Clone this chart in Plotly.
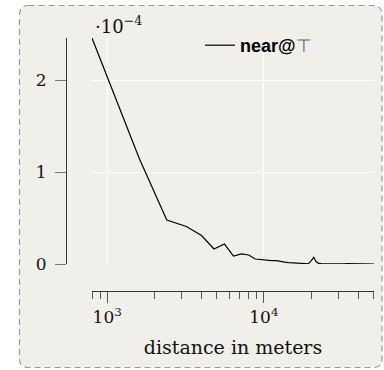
import plotly.graph_objects as go

# distance bins (meters) and the observed rate for "near@⊤"
distance_m = [
    800, 1600, 2400, 3200, 4000, 4800, 5600, 6400, 7200, 8000,
    8800, 9600, 10400, 11200, 12000, 12800, 13600, 14400, 15200, 16000,
    16800, 17600, 18400, 19200, 20000, 20800, 21600, 22400, 23200, 24000,
    24800, 25600, 26400, 27200, 28000, 28800, 29600, 30400, 31200, 32000,
    32800, 33600, 34400, 35200, 36000, 36800, 37600, 38400, 39200, 40000,
    40800, 41600, 42400, 43200, 44000, 44800, 45600, 46400, 47200, 48000,
    48800, 49600, 50400,
]
rate_e4 = [
    2.457, 1.15, 0.478, 0.408, 0.31, 0.163, 0.217, 0.087, 0.109, 0.098,
    0.054, 0.045, 0.040, 0.036, 0.036, 0.024, 0.020, 0.016, 0.013, 0.012,
    0.010, 0.008, 0.005, 0.002, 0.035, 0.073, 0.022, 0.006, 0.005, 0.004,
    0.004, 0.003, 0.005, 0.003, 0.002, 0.004, 0.003, 0.002, 0.003, 0.002,
    0.002, 0.003, 0.002, 0.001, 0.002, 0.002, 0.001, 0.002, 0.001, 0.001,
    0.002, 0.001, 0.001, 0.001, 0.001, 0.002, 0.001, 0.001, 0.000, 0.001,
    0.001, 0.000, 0.000,
]
series_name = "<b>near@</b><span style='color:#666'>⊤</span>"

y_ticks = [0, 1e-4, 2e-4]
y_ticktext = ["0", "1", "2"]
x_ticks = [1000, 10000]
x_ticktext = ["10<sup>3</sup>", "10<sup>4</sup>"]
x_minor = [800, 900, 2000, 3000, 4000, 5000, 6000, 7000, 8000, 9000,
           20000, 30000, 40000, 50000]

W, H = 384, 370
SERIF = "DejaVu Serif"


def px(x):
    return x / W


def py(y):
    return 1 - y / H


fig = go.Figure()
fig.add_trace(go.Scatter(
    x=distance_m,
    y=[v * 1e-4 for v in rate_e4],
    mode="lines",
    line=dict(color="black", width=1.2),
    name=series_name,
    showlegend=True,
))

# dashed rounded frame behind the plot
x0, x1, y0, y1, r = 19.5, 382, 5.5, 367.5, 9
frame = (
    f"M {px(x0 + r)},{py(y0)} L {px(x1 - r)},{py(y0)} "
    f"Q {px(x1)},{py(y0)} {px(x1)},{py(y0 + r)} "
    f"L {px(x1)},{py(y1 - r)} Q {px(x1)},{py(y1)} {px(x1 - r)},{py(y1)} "
    f"L {px(x0 + r)},{py(y1)} Q {px(x0)},{py(y1)} {px(x0)},{py(y1 - r)} "
    f"L {px(x0)},{py(y0 + r)} Q {px(x0)},{py(y0)} {px(x0 + r)},{py(y0)} Z"
)
fig.add_shape(type="path", path=frame, xref="paper", yref="paper",
              fillcolor="#f0efe9", line=dict(color="#9a9a9a", width=1.2, dash="6px,4px"),
              layer="below")

fig.add_annotation(
    text="·10<sup>−4</sup>", xref="paper", yref="paper",
    x=px(93), y=py(39), xanchor="left", yanchor="bottom",
    showarrow=False, font=dict(family=SERIF, size=18, color="#111"),
)

fig.update_layout(
    width=W, height=H,
    margin=dict(l=0, r=0, t=0, b=0, autoexpand=False),
    paper_bgcolor="white",
    plot_bgcolor="rgba(0,0,0,0)",
    showlegend=True,
    legend=dict(
        x=px(200), y=py(27), xanchor="left", yanchor="top",
        bgcolor="rgba(0,0,0,0)", borderwidth=0,
        font=dict(family="Liberation Sans", size=18, color="black"),
    ),
    xaxis=dict(
        type="log",
        domain=[px(92), px(374)],
        range=[2.90309, 4.70243],
        anchor="free", position=py(291),
        automargin=False,
        showline=True, linecolor="#333", linewidth=1,
        ticks="outside", ticklen=11, tickcolor="#555", tickwidth=1,
        tickvals=x_ticks, ticktext=x_ticktext,
        minor=dict(tickvals=x_minor, ticks="outside", ticklen=7,
                   tickcolor="#555", tickwidth=1, showgrid=False),
        showgrid=True, gridcolor="white", gridwidth=1,
        zeroline=False,
        tickfont=dict(family=SERIF, size=17, color="#111"),
        title=dict(text="distance in meters", standoff=14,
                   font=dict(family=SERIF, size=19, color="#111")),
    ),
    yaxis=dict(
        domain=[py(264), py(38)],
        range=[0, 2.457e-4],
        anchor="free", position=px(66),
        automargin=False,
        showline=True, linecolor="#333", linewidth=1,
        ticks="outside", ticklen=11, tickcolor="#777", tickwidth=1,
        ticklabelstandoff=5,
        tickvals=y_ticks, ticktext=y_ticktext,
        showgrid=True, gridcolor="white", gridwidth=1,
        zeroline=False,
        tickfont=dict(family=SERIF, size=17, color="#111"),
    ),
)

fig.write_html("out.html")
